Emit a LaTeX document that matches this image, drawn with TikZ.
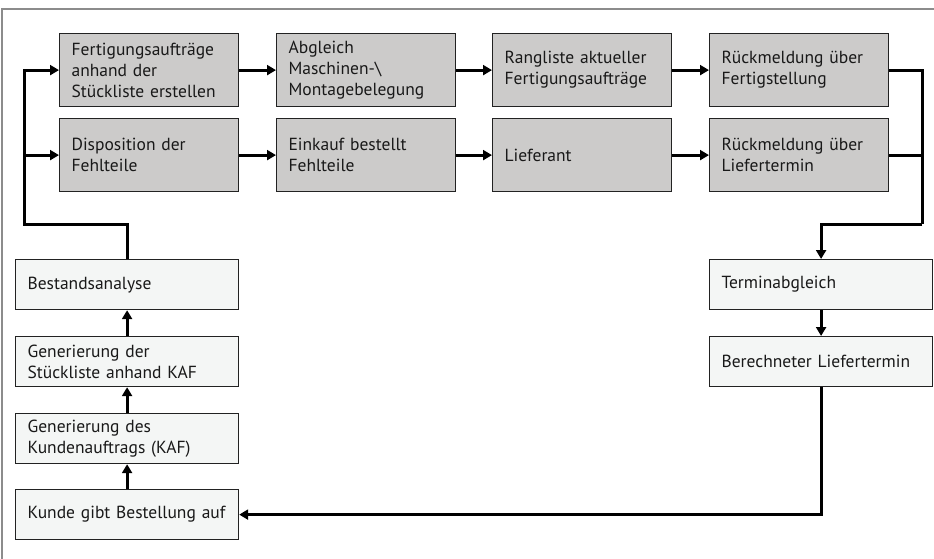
\documentclass[tikz,border=0pt]{standalone}
\usepackage{fontspec}
\setmainfont{PT Sans}
\usetikzlibrary{arrows.meta}
\definecolor{boxgray}{HTML}{CCCBCA}
\definecolor{boxlight}{HTML}{F4F6F5}
\definecolor{framegray}{HTML}{8C8C8C}
\definecolor{edge}{HTML}{222222}
\tikzset{
  basebox/.style={draw=edge, line width=1.2pt, align=left, inner xsep=12pt, inner ysep=0pt,
    font=\fontsize{17.5}{21}\selectfont, anchor=north west, text=black!90},
  topbox/.style={basebox, fill=boxgray, minimum width=179pt, minimum height=73pt, text width=155pt},
  lowbox/.style={basebox, fill=boxlight, minimum width=223pt, minimum height=50pt, text width=199pt},
  flow/.style={line width=3pt, -{Triangle[length=9pt,width=10pt]}},
  plain/.style={line width=3pt},
}
\begin{document}
\begin{tikzpicture}[x=1pt,y=-1pt]
\useasboundingbox (0,0) rectangle (934,559);
\draw[framegray, line width=1.5pt] (2,559) -- (2,9) -- (934,9);

\node[topbox] (f1) at (59,33) {Fertigungsaufträge\\anhand der\\Stückliste erstellen};
\node[topbox] (f2) at (276,33) {Abgleich\\Maschinen-\textbackslash\\Montagebelegung};
\node[topbox] (f3) at (492,33) {Rangliste aktueller\\Fertigungsaufträge};
\node[topbox] (f4) at (709,33) {Rückmeldung über\\Fertigstellung};

\node[topbox] (d1) at (59,118) {Disposition der\\Fehlteile};
\node[topbox] (d2) at (276,118) {Einkauf bestellt\\Fehlteile};
\node[topbox] (d3) at (492,118) {Lieferant};
\node[topbox] (d4) at (709,118) {Rückmeldung über\\Liefertermin};

\node[lowbox] (bestand) at (15,259) {Bestandsanalyse};
\node[lowbox] (stk) at (15,336) {Generierung der\\Stückliste anhand KAF};
\node[lowbox] (kaf) at (15,413) {Generierung des\\Kundenauftrags (KAF)};
\node[lowbox] (kunde) at (15,489) {Kunde gibt Bestellung auf};

\node[lowbox] (termin) at (709,259) {Terminabgleich};
\node[lowbox] (berech) at (709,336) {Berechneter Liefertermin};

\coordinate (busL) at (24,224);
\coordinate (busR) at (922,224);

% left bus
\draw[flow] (bestand.north) |- (busL) |- (f1.west);
\draw[flow] (busL |- d1.west) -- (d1.west);

% horizontal chains
\draw[flow] (f1.east) -- (f2.west);
\draw[flow] (f2.east) -- (f3.west);
\draw[flow] (f3.east) -- (f4.west);
\draw[flow] (d1.east) -- (d2.west);
\draw[flow] (d2.east) -- (d3.west);
\draw[flow] (d3.east) -- (d4.west);

% right bus
\draw[plain] (f4.east) -| (busR);
\draw[plain] (d4.east) -- (busR |- d4.east);
\draw[flow] (busR) -| (termin.north);

\draw[flow] (termin.south) -- (berech.north);
\draw[flow] (berech.south) |- (kunde.east);

\draw[flow] (kunde.north) -- (kaf.south);
\draw[flow] (kaf.north) -- (stk.south);
\draw[flow] (stk.north) -- (bestand.south);
\end{tikzpicture}
\end{document}
